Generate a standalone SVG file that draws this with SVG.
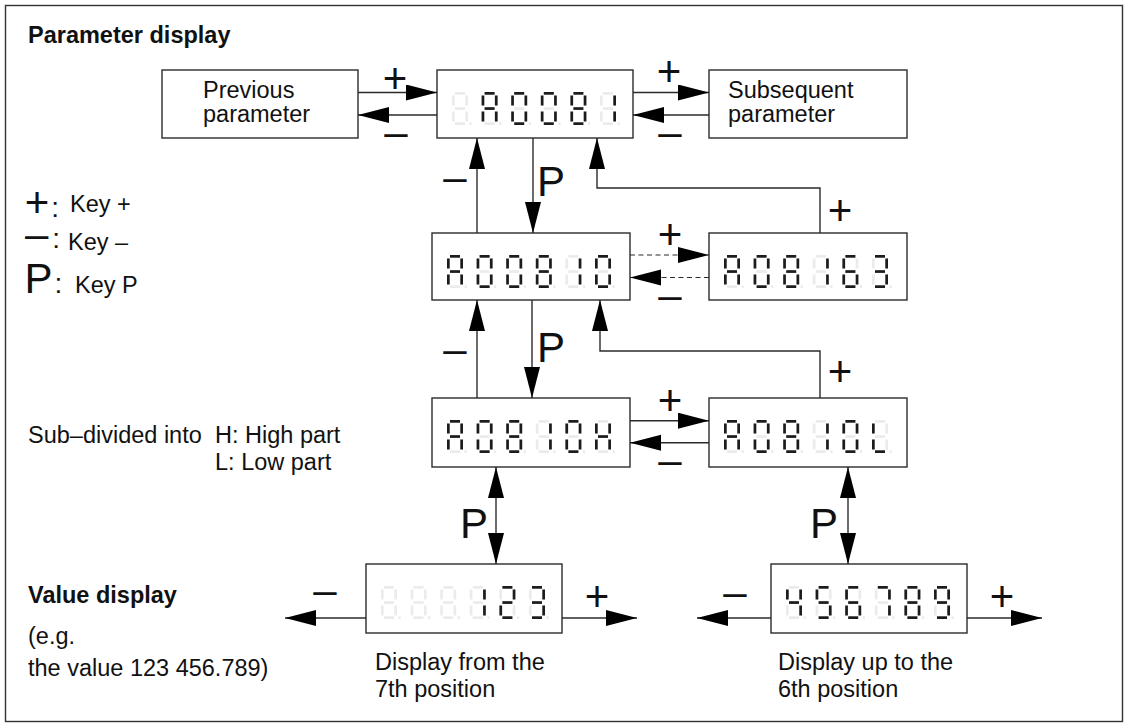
<svg xmlns="http://www.w3.org/2000/svg" width="1129" height="727" viewBox="0 0 1129 727">
<style>
.frame{fill:none;stroke:#333;stroke-width:1.4}
.box{fill:#fff;stroke:#2b2b2b;stroke-width:1.4}
.ln{fill:none;stroke:#2b2b2b;stroke-width:1.4}
.dash{stroke-dasharray:5 3.5;stroke-width:1.2}
.t{font-family:"Liberation Sans",Arial,sans-serif;font-size:23.5px;fill:#111}
.b{font-weight:bold}
.big{font-family:"Liberation Sans",Arial,sans-serif;font-size:42px;fill:#111}
.mid{text-anchor:middle}
.dim{fill:#ebebeb}
.on{fill:#1c1c1c}
</style>
<defs>
<marker id="ah" markerUnits="userSpaceOnUse" markerWidth="32" markerHeight="17" refX="31" refY="8" orient="auto-start-reverse" viewBox="0 0 32 17"><path d="M0,0 L31,8 L0,16 Z" fill="#000"/></marker>
<rect id="sa" x="3" y="0" width="10" height="2.7"/>
<rect id="sb" x="13.3" y="3.5" width="2.7" height="10"/>
<rect id="sc" x="13.3" y="19.5" width="2.7" height="10"/>
<rect id="sd" x="3" y="30.3" width="10" height="2.7"/>
<rect id="se" x="0" y="19.5" width="2.7" height="10"/>
<rect id="sf" x="0" y="3.5" width="2.7" height="10"/>
<rect id="sg" x="3" y="15.2" width="10" height="2.7"/>
<g id="dim8"><use href="#sa"/><use href="#sb"/><use href="#sc"/><use href="#sd"/><use href="#se"/><use href="#sf"/><use href="#sg"/><rect x="17.5" y="30.3" width="2.2" height="2.7"/></g>
<g id="cA"><use href="#sa"/><use href="#sb"/><use href="#sc"/><use href="#se"/><use href="#sf"/><use href="#sg"/></g>
<g id="c0"><use href="#sa"/><use href="#sb"/><use href="#sc"/><use href="#sd"/><use href="#se"/><use href="#sf"/></g>
<g id="c8"><use href="#sa"/><use href="#sb"/><use href="#sc"/><use href="#sd"/><use href="#se"/><use href="#sf"/><use href="#sg"/></g>
<g id="c1"><use href="#sb"/><use href="#sc"/></g>
<g id="c2"><use href="#sa"/><use href="#sb"/><use href="#sd"/><use href="#se"/><use href="#sg"/></g>
<g id="c3"><use href="#sa"/><use href="#sb"/><use href="#sc"/><use href="#sd"/><use href="#sg"/></g>
<g id="c4"><use href="#sb"/><use href="#sc"/><use href="#sf"/><use href="#sg"/></g>
<g id="c5"><use href="#sa"/><use href="#sc"/><use href="#sd"/><use href="#sf"/><use href="#sg"/></g>
<g id="c6"><use href="#sa"/><use href="#sc"/><use href="#sd"/><use href="#se"/><use href="#sf"/><use href="#sg"/></g>
<g id="c7"><use href="#sa"/><use href="#sb"/><use href="#sc"/></g>
<g id="c9"><use href="#sa"/><use href="#sb"/><use href="#sc"/><use href="#sd"/><use href="#sf"/><use href="#sg"/></g>
<g id="cH"><use href="#sb"/><use href="#sc"/><use href="#se"/><use href="#sf"/><use href="#sg"/></g>
<g id="cL"><use href="#sd"/><use href="#se"/><use href="#sf"/></g>
</defs>

<rect class="frame" x="5.5" y="5.5" width="1117" height="716"/>

<g id="labels">
<text class="t b" x="28" y="43">Parameter display</text>
<text class="big" x="24.7" y="217">+<tspan font-size="28" dx="2">:</tspan></text>
<text class="t" x="70" y="212">Key +</text>
<text class="big" x="25" y="248">–<tspan font-size="28" dx="4">:</tspan></text>
<text class="t" x="68" y="250">Key –</text>
<text class="big" x="24.6" y="293">P<tspan font-size="28" dx="2">:</tspan></text>
<text class="t" x="75" y="293">Key P</text>
<text class="t" x="28" y="443">Sub–divided into<tspan x="215">H: High part</tspan></text>
<text class="t" x="215" y="470">L: Low part</text>
<text class="t b" x="28" y="603">Value display</text>
<text class="t" x="28" y="644">(e.g.</text>
<text class="t" x="28" y="676">the value 123 456.789)</text>
<text class="t" x="375" y="670">Display from the</text>
<text class="t" x="375" y="697">7th position</text>
<text class="t" x="778" y="670">Display up to the</text>
<text class="t" x="778" y="697">6th position</text>
</g>

<g id="prev">
<rect class="box" x="162" y="70" width="196" height="68"/>
<text class="t" x="203" y="98">Previous</text>
<text class="t" x="203" y="122">parameter</text>
</g>

<g id="next">
<rect class="box" x="709" y="70" width="198" height="68"/>
<text class="t" x="728" y="98">Subsequent</text>
<text class="t" x="728" y="122">parameter</text>
</g>

<g id="disp-top">
<rect class="box" x="437" y="70" width="196" height="68"/>
<g transform="translate(0,92)">
<use href="#dim8" class="dim" x="452"/><use href="#dim8" class="dim" x="481.6"/><use href="#dim8" class="dim" x="511.2"/><use href="#dim8" class="dim" x="540.8"/><use href="#dim8" class="dim" x="570.4"/><use href="#dim8" class="dim" x="600"/>
<use href="#cA" class="on" x="481.6"/><use href="#c0" class="on" x="511.2"/><use href="#c0" class="on" x="540.8"/><use href="#c8" class="on" x="570.4"/><use href="#c1" class="on" x="600"/>
</g>
</g>

<g id="disp-r2l">
<rect class="box" x="432" y="233" width="198" height="67"/>
<g transform="translate(0,255)">
<use href="#dim8" class="dim" x="447"/><use href="#dim8" class="dim" x="476.6"/><use href="#dim8" class="dim" x="506.2"/><use href="#dim8" class="dim" x="535.8"/><use href="#dim8" class="dim" x="565.4"/><use href="#dim8" class="dim" x="595"/>
<use href="#cA" class="on" x="447"/><use href="#c0" class="on" x="476.6"/><use href="#c0" class="on" x="506.2"/><use href="#c8" class="on" x="535.8"/><use href="#c1" class="on" x="565.4"/><use href="#c0" class="on" x="595"/>
</g>
</g>

<g id="disp-r2r">
<rect class="box" x="709" y="233" width="198" height="67"/>
<g transform="translate(0,255)">
<use href="#dim8" class="dim" x="724"/><use href="#dim8" class="dim" x="753.6"/><use href="#dim8" class="dim" x="783.2"/><use href="#dim8" class="dim" x="812.8"/><use href="#dim8" class="dim" x="842.4"/><use href="#dim8" class="dim" x="872"/>
<use href="#cA" class="on" x="724"/><use href="#c0" class="on" x="753.6"/><use href="#c8" class="on" x="783.2"/><use href="#c1" class="on" x="812.8"/><use href="#c6" class="on" x="842.4"/><use href="#c3" class="on" x="872"/>
</g>
</g>

<g id="disp-r3l">
<rect class="box" x="432" y="398" width="198" height="69"/>
<g transform="translate(0,420)">
<use href="#dim8" class="dim" x="447"/><use href="#dim8" class="dim" x="476.6"/><use href="#dim8" class="dim" x="506.2"/><use href="#dim8" class="dim" x="535.8"/><use href="#dim8" class="dim" x="565.4"/><use href="#dim8" class="dim" x="595"/>
<use href="#cA" class="on" x="447"/><use href="#c0" class="on" x="476.6"/><use href="#c8" class="on" x="506.2"/><use href="#c1" class="on" x="535.8"/><use href="#c0" class="on" x="565.4"/><use href="#cH" class="on" x="595"/>
</g>
</g>

<g id="disp-r3r">
<rect class="box" x="709" y="398" width="198" height="69"/>
<g transform="translate(0,420)">
<use href="#dim8" class="dim" x="724"/><use href="#dim8" class="dim" x="753.6"/><use href="#dim8" class="dim" x="783.2"/><use href="#dim8" class="dim" x="812.8"/><use href="#dim8" class="dim" x="842.4"/><use href="#dim8" class="dim" x="872"/>
<use href="#cA" class="on" x="724"/><use href="#c0" class="on" x="753.6"/><use href="#c8" class="on" x="783.2"/><use href="#c1" class="on" x="812.8"/><use href="#c0" class="on" x="842.4"/><use href="#cL" class="on" x="872"/>
</g>
</g>

<g id="disp-val-hi">
<rect class="box" x="366" y="564" width="196" height="69"/>
<g transform="translate(0,586)">
<use href="#dim8" class="dim" x="381"/><use href="#dim8" class="dim" x="410.6"/><use href="#dim8" class="dim" x="440.2"/><use href="#dim8" class="dim" x="469.8"/><use href="#dim8" class="dim" x="499.4"/><use href="#dim8" class="dim" x="529"/>
<use href="#c1" class="on" x="469.8"/><use href="#c2" class="on" x="499.4"/><use href="#c3" class="on" x="529"/>
</g>
</g>

<g id="disp-val-lo">
<rect class="box" x="771" y="564" width="196" height="69"/>
<g transform="translate(0,586)">
<use href="#dim8" class="dim" x="786"/><use href="#dim8" class="dim" x="815.6"/><use href="#dim8" class="dim" x="845.2"/><use href="#dim8" class="dim" x="874.8"/><use href="#dim8" class="dim" x="904.4"/><use href="#dim8" class="dim" x="934"/>
<use href="#c4" class="on" x="786"/><use href="#c5" class="on" x="815.6"/><use href="#c6" class="on" x="845.2"/><use href="#c7" class="on" x="874.8"/><use href="#c8" class="on" x="904.4"/><use href="#c9" class="on" x="934"/>
</g>
</g>

<g id="connectors">
<g class="ln" marker-end="url(#ah)">
<line x1="358" y1="92.5" x2="437" y2="92.5"/>
<line x1="437" y1="115" x2="358" y2="115"/>
<line x1="633" y1="92.5" x2="709" y2="92.5"/>
<line x1="709" y1="115" x2="633" y2="115"/>
<line x1="533" y1="138" x2="533" y2="233"/>
<line x1="477" y1="233" x2="477" y2="138"/>
<polyline points="820,233 820,188 597,188 597,138"/>
<line class="dash" x1="630" y1="255" x2="709" y2="255"/>
<line class="dash" x1="709" y1="277.5" x2="630" y2="277.5"/>
<line x1="532" y1="300" x2="532" y2="398"/>
<line x1="477" y1="398" x2="477" y2="300"/>
<polyline points="820,398 820,351 600,351 600,300"/>
<line x1="630" y1="420.7" x2="709" y2="420.7"/>
<line x1="709" y1="442.7" x2="630" y2="442.7"/>
<line x1="496" y1="467" x2="496" y2="564" marker-start="url(#ah)"/>
<line x1="848" y1="467" x2="848" y2="564" marker-start="url(#ah)"/>
<line x1="366" y1="618" x2="285" y2="618"/>
<line x1="562" y1="618" x2="637" y2="618"/>
<line x1="771" y1="618" x2="697" y2="618"/>
<line x1="967" y1="618" x2="1042" y2="618"/>
</g>
<text class="big mid" x="395" y="92.8">+</text>
<text class="big mid" x="396" y="146.3">–</text>
<text class="big mid" x="669" y="85.8">+</text>
<text class="big mid" x="670" y="146.3">–</text>
<text class="big mid" x="455" y="191.3">–</text>
<text class="big" x="537" y="196">P</text>
<text class="big mid" x="840" y="224.8">+</text>
<text class="big mid" x="670" y="248.8">+</text>
<text class="big mid" x="670" y="308.8">–</text>
<text class="big mid" x="455" y="363.3">–</text>
<text class="big" x="537" y="362">P</text>
<text class="big mid" x="840" y="385.8">+</text>
<text class="big mid" x="670" y="414.8">+</text>
<text class="big mid" x="670" y="474.3">–</text>
<text class="big" x="460" y="538">P</text>
<text class="big" x="810" y="538">P</text>
<text class="big mid" x="325" y="604.3">–</text>
<text class="big mid" x="597" y="610.8">+</text>
<text class="big mid" x="735" y="606.3">–</text>
<text class="big mid" x="1002" y="610.8">+</text>
</g>
</svg>
